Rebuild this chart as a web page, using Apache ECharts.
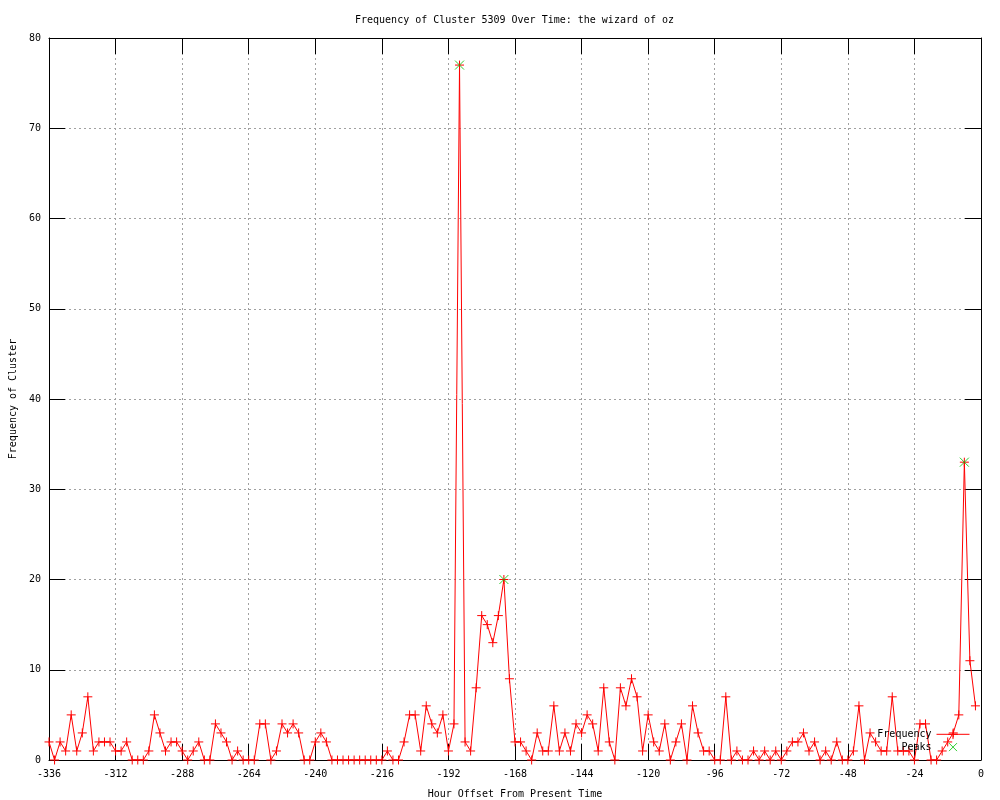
<!DOCTYPE html>
<html>
<head>
<meta charset="utf-8">
<script src="https://cdn.jsdelivr.net/npm/echarts@6/dist/echarts.min.js"></script>
<style>
html,body{margin:0;padding:0;background:#fff;}
#chart{width:1000px;height:800px;}
</style>
</head>
<body>
<div id="chart"></div>
<script>
// ---- data ----
const titleText = "Frequency of Cluster 5309 Over Time: the wizard of oz";
const xAxisName = "Hour Offset From Present Time";
const yAxisName = "Frequency of Cluster";
const hourStart = -336;   // first sample hour
const hourStep = 2;       // hours between samples
const frequency = [
  2,0,2,1,5,1,3,7,1,2, 2,2,1,1,2,0,0,0,1,5,
  3,1,2,2,1,0,1,2,0,0, 4,3,2,0,1,0,0,0,4,4,
  0,1,4,3,4,3,0,0,2,3, 2,0,0,0,0,0,0,0,0,0,
  0,1,0,0,2,5,5,1,6,4, 3,5,1,4,77,2,1,8,16,15,
  13,16,20,9,2,2,1,0,3,1, 1,6,1,3,1,4,3,5,4,1,
  8,2,0,8,6,9,7,1,5,2, 1,4,0,2,4,0,6,3,1,1,
  0,0,7,0,1,0,0,1,0,1, 0,1,0,1,2,2,3,1,2,0,
  1,0,2,0,0,1,6,0,3,2, 1,1,7,1,1,1,0,4,4,0,
  0,1,2,3,5,33,11,6
];
const peakHours = [-188, -172, -6];
const peakValues = [77, 20, 33];
const xTicks = { min: -336, max: 0, step: 24 };
const yTicks = { min: 0, max: 80, step: 10 };

// ---- build ----
const freqData = frequency.map((v, i) => [hourStart + hourStep * i, v]);
const peakData = peakHours.map((h, i) => [h, peakValues[i]]);

const FONT = "DejaVu Sans Mono";
const PLUS = 'path://M0,5L10,5M5,0L5,10';
const CROSS = 'path://M0,0L10,10M0,10L10,0';
const CROSS_LEGEND = 'path://M0,0M12,12M2,2L10,10M2,10L10,2';
const RED = '#ff0000';
const GREEN = '#00c000';

const gridLine = { show: true, lineStyle: { color: '#a0a0a0', type: [2, 3], width: 1 } };
const axisLine = { show: true, onZero: false, lineStyle: { color: '#000', width: 1 } };
const tick = { show: true, inside: true, length: 16, lineStyle: { color: '#000', width: 1 } };
const lbl = { color: '#000', fontFamily: FONT, fontSize: 10 };

const chart = echarts.init(document.getElementById('chart'), null, { renderer: 'canvas' });
chart.setOption({
  animation: false,
  backgroundColor: '#fff',
  title: {
    text: titleText, left: 355, top: 15, padding: 0,
    textStyle: { fontFamily: FONT, fontSize: 10, fontWeight: 'normal', color: '#000' }
  },
  grid: { left: 49, right: 19, top: 38, bottom: 40, containLabel: false, outerBoundsMode: 'none' },
  legend: {
    orient: 'vertical', align: 'right', right: 30, top: 729, padding: 0,
    itemWidth: 33, itemHeight: 12, itemGap: 1,
    textStyle: { fontFamily: FONT, fontSize: 10, color: '#000' },
    itemStyle: { borderWidth: 1 },
    lineStyle: { width: 1 },
    data: [{ name: 'Frequency' }, { name: 'Peaks', icon: CROSS_LEGEND }]
  },
  xAxis: [
    {
      type: 'value', position: 'bottom', min: xTicks.min, max: xTicks.max, interval: xTicks.step,
      name: xAxisName, nameLocation: 'middle', nameGap: 29,
      nameTextStyle: { fontFamily: FONT, fontSize: 10, color: '#000' },
      axisLine: axisLine, axisTick: tick, splitLine: gridLine,
      axisLabel: Object.assign({ margin: 9 }, lbl)
    },
    {
      type: 'value', position: 'top', min: xTicks.min, max: xTicks.max, interval: xTicks.step,
      axisLine: axisLine, axisTick: tick, splitLine: { show: false }, axisLabel: { show: false }
    }
  ],
  yAxis: [
    {
      type: 'value', position: 'left', min: yTicks.min, max: yTicks.max, interval: yTicks.step,
      name: yAxisName, nameLocation: 'middle', nameGap: 31, nameRotate: 90,
      nameTextStyle: { fontFamily: FONT, fontSize: 10, color: '#000' },
      axisLine: axisLine, axisTick: tick, splitLine: gridLine,
      axisLabel: Object.assign({ margin: 8 }, lbl)
    },
    {
      type: 'value', position: 'right', min: yTicks.min, max: yTicks.max, interval: yTicks.step,
      axisLine: axisLine, axisTick: tick, splitLine: { show: false }, axisLabel: { show: false }
    }
  ],
  series: [
    {
      name: 'Frequency', type: 'line', data: freqData, xAxisIndex: 0, yAxisIndex: 0,
      symbol: PLUS, symbolSize: 9, showSymbol: true, showAllSymbol: true,
      lineStyle: { color: RED, width: 1 },
      itemStyle: { color: RED, borderColor: RED, borderWidth: 1 },
      emphasis: { disabled: true }, z: 3
    },
    {
      name: 'Peaks', type: 'scatter', data: peakData, xAxisIndex: 0, yAxisIndex: 0,
      symbol: CROSS, symbolSize: 9,
      itemStyle: { color: GREEN, borderColor: GREEN, borderWidth: 1 },
      emphasis: { disabled: true }, z: 4
    }
  ]
});
</script>
</body>
</html>
